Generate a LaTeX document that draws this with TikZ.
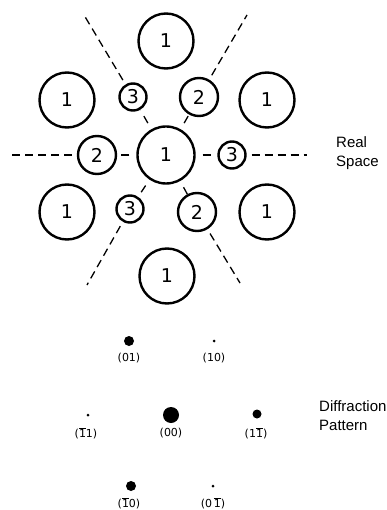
\documentclass[tikz,border=0pt]{standalone}
\usepackage{fontspec}
\setmainfont{DejaVu Sans}
\newfontfamily\capfont{Liberation Sans}
\newcommand{\ovl}[1]{\ensuremath{\overline{\hbox{#1}}}}
\begin{document}
\begin{tikzpicture}[x=1pt,y=-1pt,
  atom/.style={circle,draw,line width=2.4pt,fill=white,inner sep=0pt,font=\fontsize{19}{19}\selectfont},
  bigatom/.style={atom,minimum size=55pt},
  midatom/.style={atom,minimum size=38pt},
  smallatom/.style={atom,minimum size=27pt},
  mirror/.style={line width=1.3pt,dash pattern=on 8pt off 5pt,dash phase=8pt},
  shortmirror/.style={line width=1.3pt,dash pattern=on 8pt off 7pt,dash phase=8pt},
  spot/.style={circle,fill=black,inner sep=0pt},
  idx/.style={font=\fontsize{11}{12}\selectfont},
  caption/.style={anchor=west,align=left,inner sep=0pt,font=\capfont\fontsize{15}{19.5}\selectfont}]
\useasboundingbox (0,0) rectangle (387,510);

% ---- real-space arrangement ----
\node[bigatom,minimum size=57pt] (c) at (166,155) {1};

\node[bigatom] (t)  at (166,41)  {1};
\node[bigatom] (ul) at (67,100)  {1};
\node[bigatom] (ur) at (267,100) {1};
\node[bigatom] (ll) at (67,212)  {1};
\node[bigatom] (lr) at (267,212) {1};
\node[bigatom] (b)  at (167,276) {1};

\node[smallatom] (a3ul) at (133,97)  {3};
\node[smallatom] (a3r)  at (232,155) {3};
\node[smallatom] (a3ll) at (130,209) {3};
\node[midatom]   (a2ur) at (199,97)  {2};
\node[midatom]   (a2l)  at (97,155)  {2};
\node[midatom]   (a2lr) at (197,212) {2};

% mirror lines
\coordinate (eul) at (84,15);
\coordinate (eur) at (247,15);
\coordinate (ell) at (87,285);
\coordinate (elr) at (240,283);
\coordinate (el)  at (12,155);
\coordinate (er)  at (307,155);

\draw[shortmirror] (c) -- (a3ul);
\draw[shortmirror] (c) -- (a3r);
\draw[shortmirror] (c) -- (a3ll);
\draw[shortmirror] (c) -- (a2ur);
\draw[shortmirror] (c) -- (a2l);
\draw[shortmirror] (c) -- (a2lr);
\draw[mirror] (a3ul) -- (eul);
\draw[mirror] (a2ur) -- (eur);
\draw[mirror] (a3ll) -- (ell);
\draw[mirror] (a2lr) -- (elr);
\draw[mirror] (a2l)  -- (el);
\draw[mirror] (a3r)  -- (er);

\node[caption] (rs) at (336,153) {Real\\Space};

% ---- diffraction pattern ----
\node[spot,minimum size=16pt] (d00)  at (171,415) {};
\node[spot,minimum size=10pt] (d01)  at (129,341) {};
\node[spot,minimum size=3pt]  (d10)  at (214,341) {};
\node[spot,minimum size=3pt]  (dm11) at (88,415)  {};
\node[spot,minimum size=9pt]  (d1m1) at (257,414) {};
\node[spot,minimum size=10pt] (dm10) at (131,486) {};
\node[spot,minimum size=3pt]  (d0m1) at (213,486) {};

\path (d00)  ++(0,18) node[idx] (l00)  {(00)};
\path (d01)  ++(0,17) node[idx] (l01)  {(01)};
\path (d10)  ++(0,17) node[idx] (l10)  {(10)};
\path (dm11) ++(-2,18) node[idx] (lm11) {(\ovl{1}1)};
\path (d1m1) ++(-1,19) node[idx] (l1m1) {(1\ovl{1})};
\path (dm10) ++(-2,17) node[idx] (lm10) {(\ovl{1}0)};
\path (d0m1) ++(0,17) node[idx] (l0m1) {(0\,\ovl{1})};

\node[caption] (dp) at (319,415.5) {Diffraction\\Pattern};
\end{tikzpicture}
\end{document}
